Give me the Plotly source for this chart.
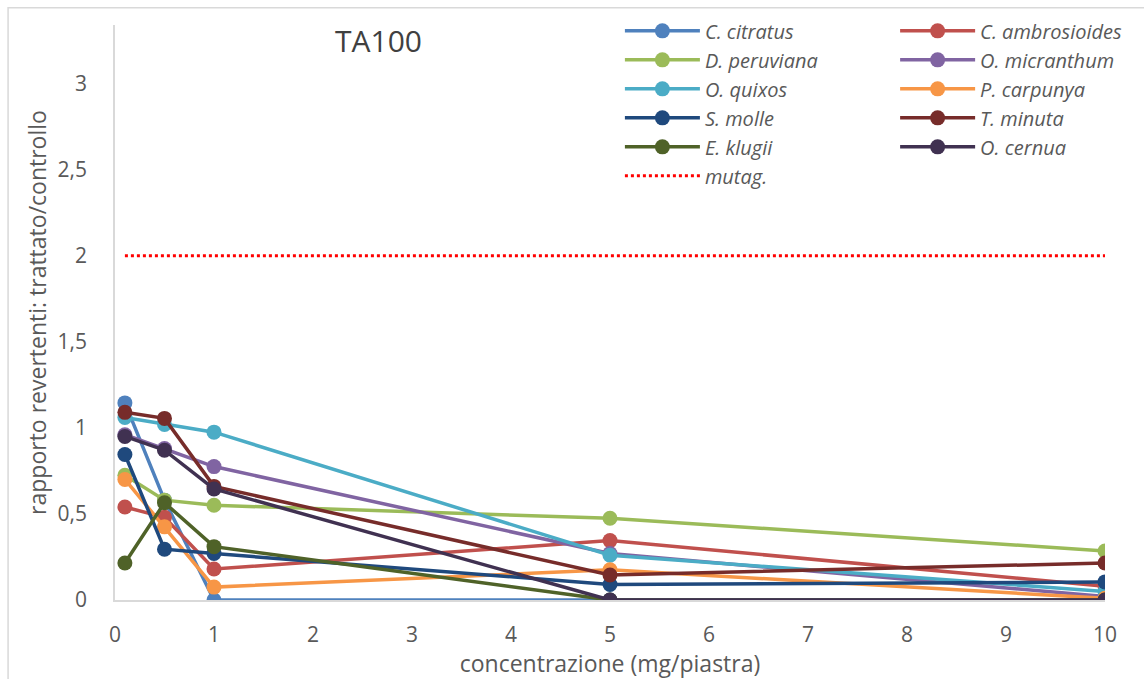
import plotly.graph_objects as go

# Concentrations tested (mg/piastra)
conc = [0.1, 0.5, 1, 5, 10]

# Revertant ratio (treated / control) per essential oil, strain TA100
c_citratus = [1.145, 0.58, 0.0, 0.0, 0.0]
c_ambrosioides = [0.54, 0.48, 0.18, 0.345, 0.08]
d_peruviana = [0.725, 0.58, 0.55, 0.475, 0.285]
o_micranthum = [0.96, 0.88, 0.775, 0.27, 0.02]
o_quixos = [1.06, 1.02, 0.975, 0.26, 0.05]
p_carpunya = [0.70, 0.425, 0.075, 0.175, 0.01]
s_molle = [0.845, 0.295, 0.27, 0.09, 0.105]
t_minuta = [1.09, 1.055, 0.66, 0.145, 0.215]
e_klugii = [0.215, 0.565, 0.31, 0.0, 0.0]
o_cernua = [0.95, 0.87, 0.645, 0.0, 0.0]
mutag_threshold = [2, 2, 2, 2, 2]

left_col = [
    ("C. citratus", c_citratus, "#4F81BD"),
    ("D. peruviana", d_peruviana, "#9BBB59"),
    ("O. quixos", o_quixos, "#4BACC6"),
    ("S. molle", s_molle, "#1F497D"),
    ("E. klugii", e_klugii, "#4F6228"),
]
right_col = [
    ("C. ambrosioides", c_ambrosioides, "#C0504D"),
    ("O. micranthum", o_micranthum, "#8064A2"),
    ("P. carpunya", p_carpunya, "#F79646"),
    ("T. minuta", t_minuta, "#772C2A"),
    ("O. cernua", o_cernua, "#403151"),
]

FONT = "Open Sans"
GREY = "#595959"

fig = go.Figure()

# Draw in the original series order so overlaps stack the same way
series_order = []
for a, b in zip(left_col, right_col):
    series_order.append((a, "legend"))
    series_order.append((b, "legend2"))

for (name, vals, color), leg in series_order:
    fig.add_trace(go.Scatter(
        x=conc, y=vals, name=name, mode="lines+markers",
        line=dict(color=color, width=3.5),
        marker=dict(color=color, size=15),
        legend=leg,
    ))

fig.add_trace(go.Scatter(
    x=conc, y=mutag_threshold, name="mutag.", mode="lines",
    line=dict(color="#FF0000", width=3, dash="dot"),
    legend="legend",
))

legend_common = dict(
    font=dict(family=FONT, size=20, color=GREY, style="italic"),
    bgcolor="rgba(0,0,0,0)",
    itemwidth=75,
    tracegroupgap=0,
    yanchor="top",
    xanchor="left",
    xref="paper",
    yref="paper",
)

fig.update_layout(
    width=1144,
    height=679,
    paper_bgcolor="white",
    plot_bgcolor="white",
    separators=",.",
    margin=dict(l=115, r=39, t=25, b=79, autoexpand=False),
    showlegend=True,
    legend=dict(x=0.51, y=1.0237, **legend_common),
    legend2=dict(x=0.788, y=1.0237, **legend_common),
    xaxis=dict(
        range=[0, 10], tickmode="linear", dtick=1, showgrid=False,
        showline=True, linecolor="#D9D9D9", linewidth=1.5, zeroline=False,
        ticks="outside", ticklen=15, tickcolor="rgba(0,0,0,0)",
        tickfont=dict(family=FONT, size=21, color=GREY),
        title=dict(text="concentrazione (mg/piastra)", standoff=0,
                   font=dict(family=FONT, size=23, color=GREY)),
    ),
    yaxis=dict(
        range=[0, 3.34], tickvals=[0, 0.5, 1, 1.5, 2, 2.5, 3],
        tickformat=".1~f", showgrid=False,
        showline=True, linecolor="#D9D9D9", linewidth=1.5, zeroline=False,
        ticks="outside", ticklen=22, tickcolor="rgba(0,0,0,0)",
        tickfont=dict(family=FONT, size=21, color=GREY),
        title=dict(text="rapporto revertenti: trattato/controllo", standoff=5,
                   font=dict(family=FONT, size=23, color=GREY)),
    ),
    annotations=[dict(
        text="TA100", x=0.266, y=1.012, xref="paper", yref="paper",
        xanchor="center", yanchor="top", showarrow=False,
        font=dict(family=FONT, size=30, color="#404040"),
    )],
    shapes=[dict(
        type="rect", xref="paper", yref="paper",
        x0=-0.108, y0=-0.2, x1=1.05, y1=1.03,
        line=dict(color="#D9D9D9", width=1.5), fillcolor="rgba(0,0,0,0)",
        layer="below",
    )],
)

fig.write_html("out.html")
